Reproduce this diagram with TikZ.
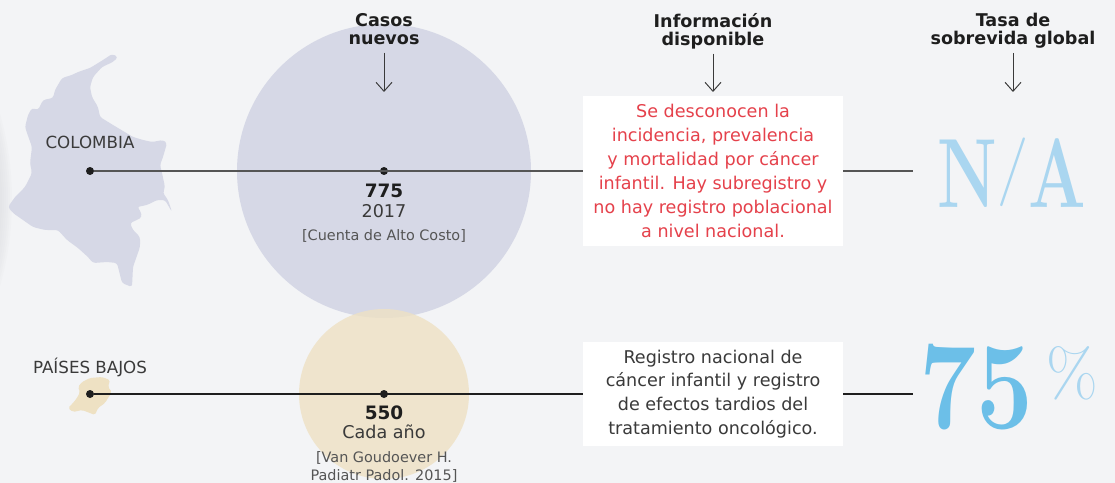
\documentclass[tikz,border=0pt]{standalone}
\usepackage{fontspec}
\usepackage{graphicx}
\setmainfont{DejaVu Sans}
\newfontfamily\didone{Latin Modern Roman}
\usetikzlibrary{arrows.meta}

\definecolor{paper}{HTML}{F3F4F6}
\definecolor{shadowgray}{HTML}{DCDDE0}
\definecolor{lilac}{HTML}{D6D8E6}
\definecolor{sand}{HTML}{EEE1C3}
\definecolor{alertred}{HTML}{E5414B}
\definecolor{inkgray}{HTML}{3A3A3A}
\definecolor{softgray}{HTML}{555555}
\definecolor{titlegray}{HTML}{1E1E1E}
\definecolor{palesky}{HTML}{AAD6F0}
\definecolor{sky}{HTML}{6CBFE8}

\begin{document}
\begin{tikzpicture}[x=0.02cm, y=-0.02cm]
    % Define styles
    \tikzstyle{header} = [align=center, inner sep=0pt, anchor=north, text=titlegray, font=\fontsize{10}{10.2}\selectfont\bfseries]
    \tikzstyle{country} = [inner sep=0pt, anchor=base, text=inkgray, font=\fontsize{9.5}{11}\selectfont]
    \tikzstyle{figure} = [inner sep=0pt, anchor=base, text=titlegray, font=\fontsize{10.5}{12}\selectfont\bfseries]
    \tikzstyle{period} = [inner sep=0pt, anchor=base, text=inkgray, font=\fontsize{10}{12}\selectfont]
    \tikzstyle{source} = [inner sep=0pt, anchor=base, align=center, text=softgray, font=\fontsize{8.2}{10.2}\selectfont]
    \tikzstyle{infobox} = [rectangle, fill=white, minimum width=5.2cm, inner sep=0pt, align=center, font=\fontsize{10}{13.6}\selectfont]
    \tikzstyle{rate} = [inner sep=0pt, anchor=base]
    \tikzstyle{bullet} = [circle, fill=titlegray, inner sep=0pt, minimum size=0.16cm]
    \tikzstyle{arrow} = [line width=0.55pt, draw=inkgray, ->, >={Straight Barb[length=0.18cm, width=0.32cm]}, shorten <=1.5pt]
    \tikzstyle{link} = [line width=0.6pt, draw=titlegray]

    % Background
    \fill[paper] (0,0) rectangle (1115,483);
    \useasboundingbox (0,0) rectangle (1115,483);
    \foreach \r in {298,300,...,312}
        \fill[shadowgray, opacity=0.12] (-300,200) circle (\r);

    % Maps
    \fill[lilac, rounded corners=1.5pt] (118,57) -- (112,54) -- (103,60) -- (90,68) -- (78,72) -- (72,75) -- (62,78) -- (55,90) -- (53,98) -- (43,100) -- (38,110) -- (32,108) -- (28,115) -- (25,127) -- (27,133) -- (32,147) -- (30,163) -- (32,173) -- (25,187) -- (15,197) -- (8,207) -- (13,213) -- (23,220) -- (33,227) -- (45,230) -- (58,230) -- (67,240) -- (78,248) -- (88,257) -- (93,263) -- (107,262) -- (117,263) -- (122,283) -- (132,287) -- (133,267) -- (140,247) -- (140,237) -- (133,230) -- (130,223) -- (137,220) -- (142,217) -- (140,210) -- (137,207) -- (147,205) -- (157,200) -- (165,200) -- (172,212) -- (168,200) -- (163,193) -- (165,187) -- (162,173) -- (160,165) -- (163,157) -- (167,143) -- (163,140) -- (152,142) -- (143,140) -- (133,137) -- (113,125) -- (100,117) -- (98,107) -- (92,97) -- (90,87) -- (93,77) -- (102,67) -- (113,62) -- cycle;
    \fill[sand, rounded corners=1pt] (82,382) -- (90,378) -- (102,377) -- (110,380) -- (108,387) -- (112,392) -- (108,398) -- (105,403) -- (98,408) -- (95,415) -- (90,413) -- (82,410) -- (73,412) -- (68,408) -- (73,403) -- (77,398) -- (80,392) -- (78,387) -- cycle;

    % Circles
    \fill[lilac] (384,171) circle (147);
    \fill[sand, opacity=0.8] (384,394) circle (85);

    % Nodes
    \node[country] (colombia) at (90,149) {COLOMBIA};
    \node[country] (holanda) at (90,373) {PAÍSES BAJOS};
    \node[bullet] (colDot) at (90,171) {};
    \node[bullet] (holDot) at (90,394) {};
    \node[bullet] (colCasos) at (384,171) {};
    \node[bullet] (holCasos) at (384,394) {};
    \node[figure] (casos775) at (384,197) {775};
    \node[period] (anio2017) at (384,217) {2017};
    \node[source] (fuenteCol) at (384,240) {[Cuenta de Alto Costo]};
    \node[figure] (casos550) at (384,419) {550};
    \node[period] (cadaAnio) at (384,438) {Cada año};
    \node[source] (fuenteHol) at (384,480) {[Van Goudoever H.\\Padiatr Padol. 2015]};
    \node[infobox, minimum height=3cm, text=alertred] (infoCol) at (713,171) {Se desconocen la\\incidencia, prevalencia\\y mortalidad por cáncer\\infantil. Hay subregistro y\\no hay registro poblacional\\a nivel nacional.};
    \node[infobox, minimum height=2.08cm, text=inkgray] (infoHol) at (713,394) {Registro nacional de\\cáncer infantil y registro\\de efectos tardios del\\tratamiento oncológico.};
    \node[header] (casos) at (384,13) {Casos\\nuevos\strut};
    \node[header] (info) at (713,13) {Información\\disponible\strut};
    \node[header] (tasa) at (1013,13) {Tasa de\\sobrevida global\strut};
    \node[rate, text=palesky, font=\didone\bfseries\fontsize{56}{56}\selectfont] (tasaCol) at (1012,207) {\scalebox{0.69}[1]{N\raisebox{0.175em}{\scalebox{1}[0.7]{\mdseries /}}A}};
    \node[rate, text=sky, font=\didone\bfseries\fontsize{71}{71}\selectfont] (tasaHol) at (976,428) {\scalebox{0.81}[1]{75}};
    \node[rate, anchor=base west, text=palesky, font=\didone\fontsize{38}{38}\selectfont] (pctHol) at (1046,396) {\%};
    \coordinate (casosTip) at (384,92);
    \coordinate (infoTip) at (713,92);
    \coordinate (tasaTip) at (1013,92);
    \coordinate (colEnd) at (913,171);
    \coordinate (holEnd) at (913,394);

    % Lines
    \draw[link, draw=softgray, line width=0.9pt] (colDot) -- (infoCol);
    \draw[link, draw=softgray, line width=0.9pt] (infoCol) -- (colEnd);
    \draw[link] (holDot) -- (infoHol);
    \draw[link] (infoHol) -- (holEnd);

    % Arrows
    \draw[arrow] (casos) -- (casosTip);
    \draw[arrow] (info) -- (infoTip);
    \draw[arrow] (tasa) -- (tasaTip);
\end{tikzpicture}
\end{document}
